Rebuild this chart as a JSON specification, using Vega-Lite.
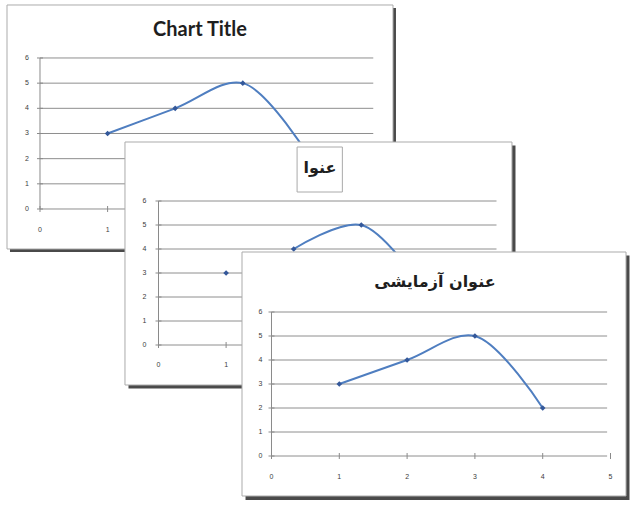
{
  "$schema": "https://vega.github.io/schema/vega-lite/v6.json",
  "width": 636,
  "height": 506,
  "padding": 0,
  "autosize": "none",
  "background": "white",
  "config": {"view": {"stroke": null}},
  "datasets": {
    "pts": [{"x": 1, "y": 3}, {"x": 2, "y": 4}, {"x": 3, "y": 5}, {"x": 4, "y": 2}],
    "ticks": [{"v": 0}, {"v": 1}, {"v": 2}, {"v": 3}, {"v": 4}, {"v": 5}, {"v": 6}],
    "one": [{}]
  },
  "resolve": {"scale": {"x": "independent", "y": "independent"}},
  "layer": [
    {
      "layer": [
        {"data": {"name": "one"}, "mark": {"type": "rect", "color": "#4a4a4a"},
         "encoding": {
           "x": {"datum": -0.444, "type": "quantitative", "scale": {"domain": [-0.5917, 8.8166], "nice": false, "zero": false}, "axis": null},
           "x2": {"datum": 5.266},
           "y": {"datum": 7.986, "type": "quantitative", "scale": {"domain": [-11.7998, 8.3035], "nice": false, "zero": false}, "axis": null},
           "y2": {"datum": -1.708}}},
        {"data": {"name": "one"}, "mark": {"type": "rect", "fill": "white", "stroke": "#ababab", "strokeWidth": 1},
         "encoding": {
           "x": {"datum": -0.488, "type": "quantitative", "scale": {"domain": [-0.5917, 8.8166], "nice": false, "zero": false}, "axis": null},
           "x2": {"datum": 5.222},
           "y": {"datum": 8.105, "type": "quantitative", "scale": {"domain": [-11.7998, 8.3035], "nice": false, "zero": false}, "axis": null},
           "y2": {"datum": -1.589}}},
        {"data": {"name": "ticks"}, "mark": {"type": "rule", "color": "#8e8e8e", "strokeWidth": 1},
         "encoding": {
           "x": {"datum": 0, "type": "quantitative", "scale": {"domain": [-0.5917, 8.8166], "nice": false, "zero": false}, "axis": null},
           "x2": {"datum": 4.93},
           "y": {"field": "v", "type": "quantitative", "scale": {"domain": [-11.7998, 8.3035], "nice": false, "zero": false}, "axis": null}}},
        {"data": {"name": "one"}, "mark": {"type": "rule", "color": "#8a8a8a", "strokeWidth": 1},
         "encoding": {
           "x": {"datum": 0, "type": "quantitative", "scale": {"domain": [-0.5917, 8.8166], "nice": false, "zero": false}, "axis": null},
           "y": {"datum": 0, "type": "quantitative", "scale": {"domain": [-11.7998, 8.3035], "nice": false, "zero": false}, "axis": null},
           "y2": {"datum": 6}}},
        {"data": {"name": "ticks"}, "mark": {"type": "tick", "orient": "horizontal", "size": 6, "thickness": 1, "color": "#8a8a8a", "opacity": 1},
         "encoding": {
           "x": {"datum": 0, "type": "quantitative", "scale": {"domain": [-0.5917, 8.8166], "nice": false, "zero": false}, "axis": null},
           "y": {"field": "v", "type": "quantitative", "scale": {"domain": [-11.7998, 8.3035], "nice": false, "zero": false}, "axis": null}}},
        {"data": {"name": "ticks"}, "transform": [{"filter": "datum.v <= 5"}], "mark": {"type": "tick", "orient": "vertical", "size": 6, "thickness": 1, "color": "#8a8a8a", "opacity": 1},
         "encoding": {
           "x": {"field": "v", "type": "quantitative", "scale": {"domain": [-0.5917, 8.8166], "nice": false, "zero": false}, "axis": null},
           "y": {"datum": 0, "type": "quantitative", "scale": {"domain": [-11.7998, 8.3035], "nice": false, "zero": false}, "axis": null}}},
        {"data": {"name": "ticks"}, "mark": {"type": "text", "font": "Liberation Sans", "fontSize": 7, "color": "#3c3c3c", "align": "right", "baseline": "middle", "dx": -11},
         "encoding": {
           "x": {"datum": 0, "type": "quantitative", "scale": {"domain": [-0.5917, 8.8166], "nice": false, "zero": false}, "axis": null},
           "y": {"field": "v", "type": "quantitative", "scale": {"domain": [-11.7998, 8.3035], "nice": false, "zero": false}, "axis": null},
           "text": {"field": "v", "type": "nominal"}}},
        {"data": {"name": "ticks"}, "transform": [{"filter": "datum.v <= 5"}], "mark": {"type": "text", "font": "Liberation Sans", "fontSize": 7, "color": "#3c3c3c", "align": "center", "baseline": "middle", "dy": 21},
         "encoding": {
           "x": {"field": "v", "type": "quantitative", "scale": {"domain": [-0.5917, 8.8166], "nice": false, "zero": false}, "axis": null},
           "y": {"datum": 0, "type": "quantitative", "scale": {"domain": [-11.7998, 8.3035], "nice": false, "zero": false}, "axis": null},
           "text": {"field": "v", "type": "nominal"}}},
        {"data": {"name": "pts"}, "mark": {"type": "line", "interpolate": "catmull-rom", "color": "#4f7ec0", "strokeWidth": 2},
         "encoding": {
           "x": {"field": "x", "type": "quantitative", "scale": {"domain": [-0.5917, 8.8166], "nice": false, "zero": false}, "axis": null},
           "y": {"field": "y", "type": "quantitative", "scale": {"domain": [-11.7998, 8.3035], "nice": false, "zero": false}, "axis": null}}},
        {"data": {"name": "pts"}, "mark": {"type": "point", "shape": "diamond", "filled": true, "size": 32, "color": "#34589a", "opacity": 1},
         "encoding": {
           "x": {"field": "x", "type": "quantitative", "scale": {"domain": [-0.5917, 8.8166], "nice": false, "zero": false}, "axis": null},
           "y": {"field": "y", "type": "quantitative", "scale": {"domain": [-11.7998, 8.3035], "nice": false, "zero": false}, "axis": null}}},
        {"data": {"name": "one"}, "mark": {"type": "text", "font": "Lato", "fontSize": 20, "fontWeight": "bold", "color": "#1e1e1e", "align": "center", "baseline": "middle"},
         "encoding": {
           "x": {"datum": 2.367, "type": "quantitative", "scale": {"domain": [-0.5917, 8.8166], "nice": false, "zero": false}, "axis": null},
           "y": {"datum": 7.112, "type": "quantitative", "scale": {"domain": [-11.7998, 8.3035], "nice": false, "zero": false}, "axis": null},
           "text": {"value": "Chart Title"}}}
      ]
    },
    {
      "layer": [
        {"data": {"name": "one"}, "mark": {"type": "rect", "color": "#4a4a4a"},
         "encoding": {
           "x": {"datum": -0.444, "type": "quantitative", "scale": {"domain": [-2.3447, 7.0636], "nice": false, "zero": false}, "axis": null},
           "x2": {"datum": 5.281},
           "y": {"datum": 8.3125, "type": "quantitative", "scale": {"domain": [-6.7083, 14.375], "nice": false, "zero": false}, "axis": null},
           "y2": {"datum": -1.8125}}},
        {"data": {"name": "one"}, "mark": {"type": "rect", "fill": "white", "stroke": "#ababab", "strokeWidth": 1},
         "encoding": {
           "x": {"datum": -0.496, "type": "quantitative", "scale": {"domain": [-2.3447, 7.0636], "nice": false, "zero": false}, "axis": null},
           "x2": {"datum": 5.229},
           "y": {"datum": 8.458, "type": "quantitative", "scale": {"domain": [-6.7083, 14.375], "nice": false, "zero": false}, "axis": null},
           "y2": {"datum": -1.667}}},
        {"data": {"name": "ticks"}, "mark": {"type": "rule", "color": "#8e8e8e", "strokeWidth": 1},
         "encoding": {
           "x": {"datum": 0, "type": "quantitative", "scale": {"domain": [-2.3447, 7.0636], "nice": false, "zero": false}, "axis": null},
           "x2": {"datum": 5},
           "y": {"field": "v", "type": "quantitative", "scale": {"domain": [-6.7083, 14.375], "nice": false, "zero": false}, "axis": null}}},
        {"data": {"name": "one"}, "mark": {"type": "rule", "color": "#8a8a8a", "strokeWidth": 1},
         "encoding": {
           "x": {"datum": 0, "type": "quantitative", "scale": {"domain": [-2.3447, 7.0636], "nice": false, "zero": false}, "axis": null},
           "y": {"datum": 0, "type": "quantitative", "scale": {"domain": [-6.7083, 14.375], "nice": false, "zero": false}, "axis": null},
           "y2": {"datum": 6}}},
        {"data": {"name": "ticks"}, "mark": {"type": "tick", "orient": "horizontal", "size": 6, "thickness": 1, "color": "#8a8a8a", "opacity": 1},
         "encoding": {
           "x": {"datum": 0, "type": "quantitative", "scale": {"domain": [-2.3447, 7.0636], "nice": false, "zero": false}, "axis": null},
           "y": {"field": "v", "type": "quantitative", "scale": {"domain": [-6.7083, 14.375], "nice": false, "zero": false}, "axis": null}}},
        {"data": {"name": "ticks"}, "transform": [{"filter": "datum.v <= 5"}], "mark": {"type": "tick", "orient": "vertical", "size": 6, "thickness": 1, "color": "#8a8a8a", "opacity": 1},
         "encoding": {
           "x": {"field": "v", "type": "quantitative", "scale": {"domain": [-2.3447, 7.0636], "nice": false, "zero": false}, "axis": null},
           "y": {"datum": 0, "type": "quantitative", "scale": {"domain": [-6.7083, 14.375], "nice": false, "zero": false}, "axis": null}}},
        {"data": {"name": "ticks"}, "mark": {"type": "text", "font": "Liberation Sans", "fontSize": 7, "color": "#3c3c3c", "align": "right", "baseline": "middle", "dx": -12},
         "encoding": {
           "x": {"datum": 0, "type": "quantitative", "scale": {"domain": [-2.3447, 7.0636], "nice": false, "zero": false}, "axis": null},
           "y": {"field": "v", "type": "quantitative", "scale": {"domain": [-6.7083, 14.375], "nice": false, "zero": false}, "axis": null},
           "text": {"field": "v", "type": "nominal"}}},
        {"data": {"name": "ticks"}, "transform": [{"filter": "datum.v <= 5"}], "mark": {"type": "text", "font": "Liberation Sans", "fontSize": 7, "color": "#3c3c3c", "align": "center", "baseline": "middle", "dy": 20},
         "encoding": {
           "x": {"field": "v", "type": "quantitative", "scale": {"domain": [-2.3447, 7.0636], "nice": false, "zero": false}, "axis": null},
           "y": {"datum": 0, "type": "quantitative", "scale": {"domain": [-6.7083, 14.375], "nice": false, "zero": false}, "axis": null},
           "text": {"field": "v", "type": "nominal"}}},
        {"data": {"name": "pts"}, "transform": [{"filter": "datum.x >= 2"}], "mark": {"type": "line", "interpolate": "catmull-rom", "color": "#4f7ec0", "strokeWidth": 2},
         "encoding": {
           "x": {"field": "x", "type": "quantitative", "scale": {"domain": [-2.3447, 7.0636], "nice": false, "zero": false}, "axis": null},
           "y": {"field": "y", "type": "quantitative", "scale": {"domain": [-6.7083, 14.375], "nice": false, "zero": false}, "axis": null}}},
        {"data": {"name": "pts"}, "mark": {"type": "point", "shape": "diamond", "filled": true, "size": 32, "color": "#34589a", "opacity": 1},
         "encoding": {
           "x": {"field": "x", "type": "quantitative", "scale": {"domain": [-2.3447, 7.0636], "nice": false, "zero": false}, "axis": null},
           "y": {"field": "y", "type": "quantitative", "scale": {"domain": [-6.7083, 14.375], "nice": false, "zero": false}, "axis": null}}},
        {"data": {"name": "one"}, "mark": {"type": "rect", "fill": null, "stroke": "#aaaaaa", "strokeWidth": 1},
         "encoding": {
           "x": {"datum": 2.05, "type": "quantitative", "scale": {"domain": [-2.3447, 7.0636], "nice": false, "zero": false}, "axis": null},
           "x2": {"datum": 2.72},
           "y": {"datum": 8.25, "type": "quantitative", "scale": {"domain": [-6.7083, 14.375], "nice": false, "zero": false}, "axis": null},
           "y2": {"datum": 6.375}}},
        {"data": {"name": "one"}, "mark": {"type": "text", "font": "DejaVu Sans", "fontSize": 16, "fontWeight": "bold", "color": "#1e1e1e", "align": "center", "baseline": "middle"},
         "encoding": {
           "x": {"datum": 2.389, "type": "quantitative", "scale": {"domain": [-2.3447, 7.0636], "nice": false, "zero": false}, "axis": null},
           "y": {"datum": 7.375, "type": "quantitative", "scale": {"domain": [-6.7083, 14.375], "nice": false, "zero": false}, "axis": null},
           "text": {"value": "عنوا"}}}
      ]
    },
    {
      "layer": [
        {"data": {"name": "one"}, "mark": {"type": "rect", "color": "#4a4a4a"},
         "encoding": {
           "x": {"datum": -0.383, "type": "quantitative", "scale": {"domain": [-4.0044, 5.3761], "nice": false, "zero": false}, "axis": null},
           "x2": {"datum": 5.28},
           "y": {"datum": 8.354, "type": "quantitative", "scale": {"domain": [-2.0833, 19.0], "nice": false, "zero": false}, "axis": null},
           "y2": {"datum": -1.833}}},
        {"data": {"name": "one"}, "mark": {"type": "rect", "fill": "white", "stroke": "#ababab", "strokeWidth": 1},
         "encoding": {
           "x": {"datum": -0.435, "type": "quantitative", "scale": {"domain": [-4.0044, 5.3761], "nice": false, "zero": false}, "axis": null},
           "x2": {"datum": 5.229},
           "y": {"datum": 8.5, "type": "quantitative", "scale": {"domain": [-2.0833, 19.0], "nice": false, "zero": false}, "axis": null},
           "y2": {"datum": -1.667}}},
        {"data": {"name": "ticks"}, "mark": {"type": "rule", "color": "#8e8e8e", "strokeWidth": 1},
         "encoding": {
           "x": {"datum": 0, "type": "quantitative", "scale": {"domain": [-4.0044, 5.3761], "nice": false, "zero": false}, "axis": null},
           "x2": {"datum": 4.95},
           "y": {"field": "v", "type": "quantitative", "scale": {"domain": [-2.0833, 19.0], "nice": false, "zero": false}, "axis": null}}},
        {"data": {"name": "one"}, "mark": {"type": "rule", "color": "#8a8a8a", "strokeWidth": 1},
         "encoding": {
           "x": {"datum": 0, "type": "quantitative", "scale": {"domain": [-4.0044, 5.3761], "nice": false, "zero": false}, "axis": null},
           "y": {"datum": 0, "type": "quantitative", "scale": {"domain": [-2.0833, 19.0], "nice": false, "zero": false}, "axis": null},
           "y2": {"datum": 6}}},
        {"data": {"name": "ticks"}, "mark": {"type": "tick", "orient": "horizontal", "size": 6, "thickness": 1, "color": "#8a8a8a", "opacity": 1},
         "encoding": {
           "x": {"datum": 0, "type": "quantitative", "scale": {"domain": [-4.0044, 5.3761], "nice": false, "zero": false}, "axis": null},
           "y": {"field": "v", "type": "quantitative", "scale": {"domain": [-2.0833, 19.0], "nice": false, "zero": false}, "axis": null}}},
        {"data": {"name": "ticks"}, "transform": [{"filter": "datum.v <= 5"}], "mark": {"type": "tick", "orient": "vertical", "size": 6, "thickness": 1, "color": "#8a8a8a", "opacity": 1},
         "encoding": {
           "x": {"field": "v", "type": "quantitative", "scale": {"domain": [-4.0044, 5.3761], "nice": false, "zero": false}, "axis": null},
           "y": {"datum": 0, "type": "quantitative", "scale": {"domain": [-2.0833, 19.0], "nice": false, "zero": false}, "axis": null}}},
        {"data": {"name": "ticks"}, "mark": {"type": "text", "font": "Liberation Sans", "fontSize": 7, "color": "#3c3c3c", "align": "right", "baseline": "middle", "dx": -9},
         "encoding": {
           "x": {"datum": 0, "type": "quantitative", "scale": {"domain": [-4.0044, 5.3761], "nice": false, "zero": false}, "axis": null},
           "y": {"field": "v", "type": "quantitative", "scale": {"domain": [-2.0833, 19.0], "nice": false, "zero": false}, "axis": null},
           "text": {"field": "v", "type": "nominal"}}},
        {"data": {"name": "ticks"}, "transform": [{"filter": "datum.v <= 5"}], "mark": {"type": "text", "font": "Liberation Sans", "fontSize": 7, "color": "#3c3c3c", "align": "center", "baseline": "middle", "dy": 21},
         "encoding": {
           "x": {"field": "v", "type": "quantitative", "scale": {"domain": [-4.0044, 5.3761], "nice": false, "zero": false}, "axis": null},
           "y": {"datum": 0, "type": "quantitative", "scale": {"domain": [-2.0833, 19.0], "nice": false, "zero": false}, "axis": null},
           "text": {"field": "v", "type": "nominal"}}},
        {"data": {"name": "pts"}, "mark": {"type": "line", "interpolate": "catmull-rom", "color": "#4f7ec0", "strokeWidth": 2},
         "encoding": {
           "x": {"field": "x", "type": "quantitative", "scale": {"domain": [-4.0044, 5.3761], "nice": false, "zero": false}, "axis": null},
           "y": {"field": "y", "type": "quantitative", "scale": {"domain": [-2.0833, 19.0], "nice": false, "zero": false}, "axis": null}}},
        {"data": {"name": "pts"}, "mark": {"type": "point", "shape": "diamond", "filled": true, "size": 32, "color": "#34589a", "opacity": 1},
         "encoding": {
           "x": {"field": "x", "type": "quantitative", "scale": {"domain": [-4.0044, 5.3761], "nice": false, "zero": false}, "axis": null},
           "y": {"field": "y", "type": "quantitative", "scale": {"domain": [-2.0833, 19.0], "nice": false, "zero": false}, "axis": null}}},
        {"data": {"name": "one"}, "mark": {"type": "text", "font": "DejaVu Sans", "fontSize": 16, "fontWeight": "bold", "color": "#1e1e1e", "align": "center", "baseline": "middle"},
         "encoding": {
           "x": {"datum": 2.411, "type": "quantitative", "scale": {"domain": [-4.0044, 5.3761], "nice": false, "zero": false}, "axis": null},
           "y": {"datum": 7.25, "type": "quantitative", "scale": {"domain": [-2.0833, 19.0], "nice": false, "zero": false}, "axis": null},
           "text": {"value": "عنوان آزمایشی"}}}
      ]
    }
  ]
}
